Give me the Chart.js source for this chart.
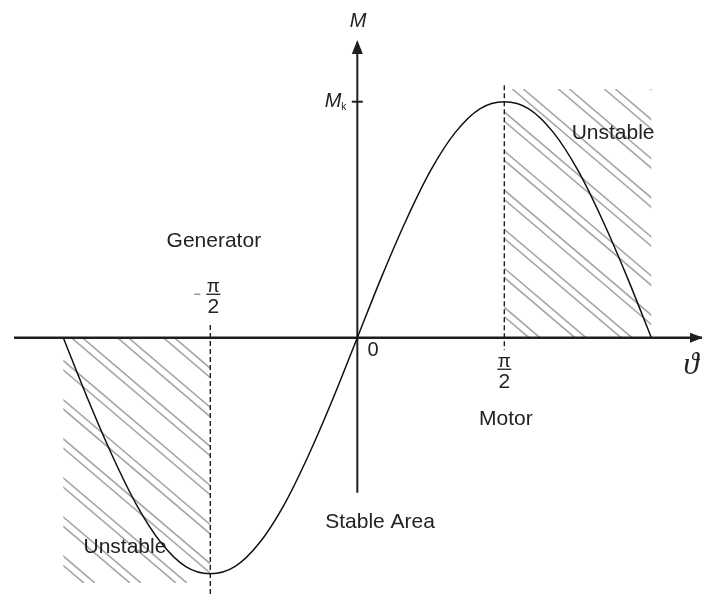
<!DOCTYPE html>
<html>
<head>
<meta charset="utf-8">
<script src="https://cdn.jsdelivr.net/npm/chart.js@4.4.1/dist/chart.umd.min.js"></script>
<style>
  html, body { margin: 0; padding: 0; background: #fff; }
  #wrap { width: 702px; height: 596px; }
</style>
</head>
<body>
<div id="wrap"><canvas id="chart"></canvas></div>
<script>
// load angle (degrees) and torque M / Mk
const angleDeg = [-180, -165, -150, -135, -120, -105, -90, -75, -60, -45, -30, -15, 0,
                  15, 30, 45, 60, 75, 90, 105, 120, 135, 150, 165, 180];
const torque = [0, -0.26, -0.5, -0.71, -0.87, -0.97, -1, -0.97, -0.87, -0.71, -0.5, -0.26, 0,
                0.26, 0.5, 0.71, 0.87, 0.97, 1, 0.97, 0.87, 0.71, 0.5, 0.26, 0];
const tickAngles = [-90, 0, 90];
const tickLabels = ['-π/2', '0', 'π/2'];
const unstableZones = [[-180, -90], [90, 180]];
const regionNames = ['Generator', 'Motor', 'Stable Area', 'Unstable'];

const rad = d => d * Math.PI / 180;
const xRange = [-3.818, 3.683], yRange = [-1.0945, 1.431];

const curve = angleDeg.map((a, i) => ({ x: rad(a), y: torque[i] }));
const seg = (a, b, extra) => Object.assign({
    data: [a, b], borderColor: '#1e1e1e', borderWidth: 2, pointRadius: 0, fill: false
}, extra);

function hatch(ctx, x0, y0, x1, y1) {
    const slope = 0.85, period = 46, gap = 11, phase = 8;
    const reach = (y1 - y0) / slope;
    ctx.save();
    ctx.beginPath(); ctx.rect(x0, y0, x1 - x0, y1 - y0); ctx.clip();
    ctx.strokeStyle = '#a6a6a6'; ctx.lineWidth = 1.6;
    for (let s = x0 + phase - Math.ceil(reach / period) * period; s < x1; s += period) {
        [s, s + gap].forEach(sx => {
            ctx.beginPath(); ctx.moveTo(sx, y0); ctx.lineTo(sx + reach, y1); ctx.stroke();
        });
    }
    ctx.restore();
}

function fraction(ctx, cx, barY, minus) {
    ctx.fillStyle = '#222';
    ctx.textAlign = 'center'; ctx.textBaseline = 'alphabetic';
    ctx.font = '19px "Liberation Sans"';
    ctx.fillText('π', cx, barY - 2);
    ctx.fillRect(cx - 7, barY - 0.6, 14, 1.3);
    ctx.font = '21px "Liberation Sans"';
    ctx.fillText('2', cx, barY + 19);
    if (minus) { ctx.fillStyle = '#8a8a8a'; ctx.fillRect(cx - 19, barY - 0.6, 6, 1.3); }
}

const decor = {
    id: 'decor',
    beforeDatasetsDraw(chart) {
        const { ctx, scales: { x, y } } = chart;
        const tops = [0, 1.054], bottoms = [-1.039, 0];
        unstableZones.forEach((z, i) => {
            hatch(ctx, x.getPixelForValue(rad(z[0])), y.getPixelForValue(tops[i]),
                  x.getPixelForValue(rad(z[1])), y.getPixelForValue(bottoms[i]));
        });
    },
    afterDatasetsDraw(chart) {
        const { ctx, scales: { x, y } } = chart;
        const ox = x.getPixelForValue(0), oy = y.getPixelForValue(0);
        // arrow heads
        ctx.fillStyle = '#1e1e1e';
        const yTip = y.getPixelForValue(1.261);
        ctx.beginPath(); ctx.moveTo(ox, yTip); ctx.lineTo(ox - 5.5, yTip + 14); ctx.lineTo(ox + 5.5, yTip + 14); ctx.fill();
        const xTip = x.getPixelForValue(xRange[1]) + 1;
        ctx.beginPath(); ctx.moveTo(xTip, oy); ctx.lineTo(xTip - 13, oy - 5); ctx.lineTo(xTip - 13, oy + 5); ctx.fill();

        // tick fractions and zero
        fraction(ctx, x.getPixelForValue(rad(tickAngles[0])) + 3, oy - 43.5, true);
        fraction(ctx, x.getPixelForValue(rad(tickAngles[2])), oy + 31.5, false);
        ctx.fillStyle = '#222'; ctx.textAlign = 'center'; ctx.textBaseline = 'middle';
        ctx.font = '20px "Liberation Sans"';
        ctx.fillText(tickLabels[1], x.getPixelForValue(0.167), y.getPixelForValue(-0.056));

        // region names
        ctx.font = '21px "Liberation Sans"';
        const notes = [[regionNames[0], -1.533, 0.41], [regionNames[1], 1.588, -0.344],
                       [regionNames[2], 0.243, -0.781], [regionNames[3], 2.733, 0.867],
                       [regionNames[3], -2.483, -0.887]];
        notes.forEach(([t, vx, vy]) => ctx.fillText(t, x.getPixelForValue(vx), y.getPixelForValue(vy)));

        // axis names
        ctx.font = 'italic 20px "Liberation Sans"';
        ctx.fillText('M', x.getPixelForValue(0.007), y.getPixelForValue(1.342));
        ctx.fillText('M', x.getPixelForValue(-0.26), y.getPixelForValue(1.0));
        ctx.font = '10px "Liberation Sans"';
        ctx.fillText('k', x.getPixelForValue(-0.145), y.getPixelForValue(0.975));
        ctx.font = 'italic 31px "Liberation Serif"';
        ctx.fillText('ϑ', x.getPixelForValue(3.567), y.getPixelForValue(-0.118));
    }
};

new Chart(document.getElementById('chart'), {
    type: 'line',
    data: {
        datasets: [
            { data: curve, borderColor: '#111', borderWidth: 1.5, pointRadius: 0,
              cubicInterpolationMode: 'monotone', fill: false },
            seg({ x: -3.668, y: 0 }, { x: xRange[1], y: 0 }, { borderWidth: 2.5 }),
            seg({ x: 0, y: -0.657 }, { x: 0, y: 1.22 }),
            seg({ x: -0.059, y: 1 }, { x: 0.059, y: 1 }),
            seg({ x: rad(90), y: 1.07 }, { x: rad(90), y: -0.052 }, { borderWidth: 1.4, borderDash: [5, 3] }),
            seg({ x: rad(-90), y: 0.054 }, { x: rad(-90), y: yRange[0] }, { borderWidth: 1.4, borderDash: [5, 3] })
        ]
    },
    options: {
        responsive: true,
        maintainAspectRatio: false,
        animation: false,
        layout: { padding: 0 },
        scales: {
            x: { type: 'linear', min: xRange[0], max: xRange[1], display: false },
            y: { type: 'linear', min: yRange[0], max: yRange[1], display: false }
        },
        plugins: { legend: { display: false }, tooltip: { enabled: false } }
    },
    plugins: [decor]
});
</script>
</body>
</html>
